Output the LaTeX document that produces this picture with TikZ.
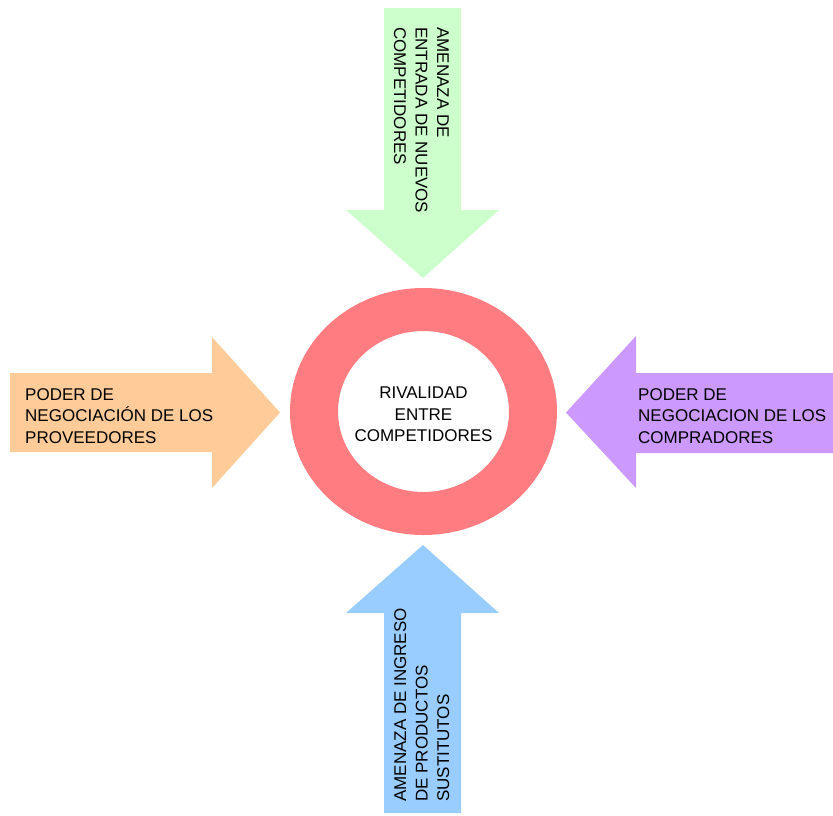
\documentclass[tikz,border=0pt]{standalone}
\usepackage{fontspec}
\setmainfont{Liberation Sans}
\definecolor{cgreen}{HTML}{CCFFCC}
\definecolor{corange}{HTML}{FFCC99}
\definecolor{cpurple}{HTML}{CC99FF}
\definecolor{cblue}{HTML}{99CCFF}
\definecolor{cring}{HTML}{FF7C80}
\begin{document}
\begin{tikzpicture}[x=1pt,y=-1pt,
  lbl/.style={inner sep=0pt, font=\fontsize{17}{21.5}\selectfont, text=black},
  arrowshape/.style={draw=none}]
\useasboundingbox (0,0) rectangle (833,815);
% arrows
\fill[cgreen,arrowshape] (384,8) -- (461,8) -- (461,210) -- (499,210) -- (423,278) -- (346,210) -- (384,210) -- cycle;
\fill[cblue,arrowshape] (384,813) -- (461,813) -- (461,613) -- (499,613) -- (423,545) -- (346,613) -- (384,613) -- cycle;
\fill[corange,arrowshape] (10,373) -- (212,373) -- (212,337) -- (280,412.5) -- (212,488) -- (212,452) -- (10,452) -- cycle;
\fill[cpurple,arrowshape] (833,373) -- (636,373) -- (636,336) -- (566,412.5) -- (636,488) -- (636,453) -- (833,453) -- cycle;
% ring
\fill[cring,even odd rule] (423.5,411.5) ellipse [x radius=133.5pt, y radius=123.5pt]
  (423.5,411.5) ellipse [x radius=85.5pt, y radius=80.5pt];
% labels
\node[lbl, anchor=north, align=center] (center) at (423.5,387) {RIVALIDAD\\ENTRE\\COMPETIDORES};
\node[lbl, anchor=north west, align=left] (prov) at (25,388) {PODER DE\\NEGOCIACIÓN DE LOS\\PROVEEDORES};
\node[lbl, anchor=north west, align=left] (comp) at (638,388) {PODER DE\\NEGOCIACION DE LOS\\COMPRADORES};
\node[lbl, anchor=north west, align=left, rotate=-90] (nuevos) at (449,27) {AMENAZA DE\\ENTRADA DE NUEVOS\\COMPETIDORES};
\node[lbl, anchor=north west, align=left, rotate=90] (sust) at (394,802) {AMENAZA DE INGRESO\\DE PRODUCTOS\\SUSTITUTOS};
\end{tikzpicture}
\end{document}
